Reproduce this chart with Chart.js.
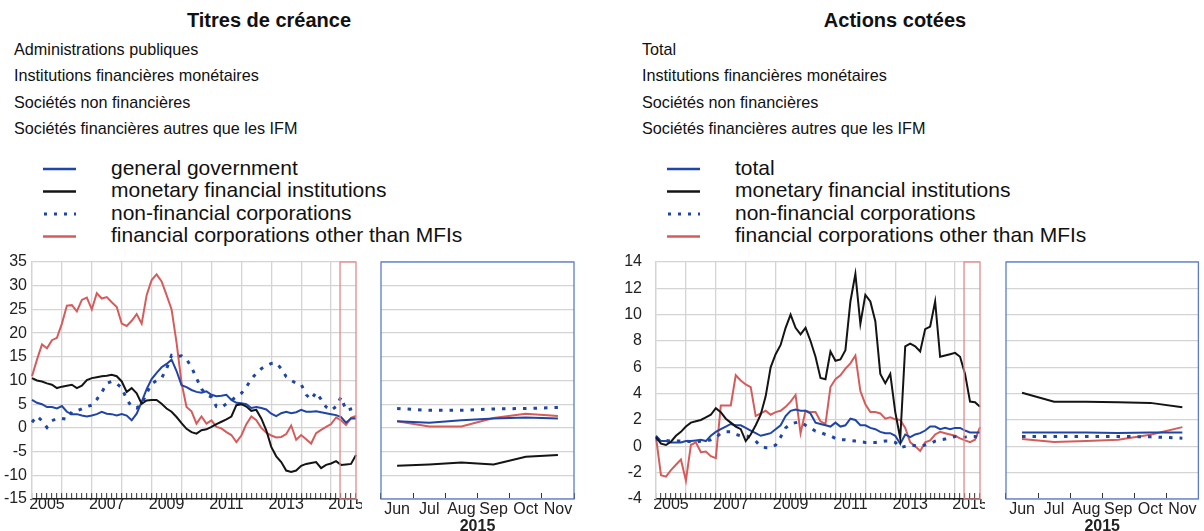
<!DOCTYPE html>
<html>
<head>
<meta charset="utf-8">
<script src="https://cdn.jsdelivr.net/npm/chart.js@4.4.1/dist/chart.umd.min.js"></script>
<style>
body { margin: 0; background: #fff; font-family: "Liberation Sans", Arial, sans-serif; color: #111; }
#page { position: relative; width: 1204px; height: 531px; overflow: hidden; }
.t { position: absolute; white-space: nowrap; line-height: 1; }
.ttl { font-weight: bold; font-size: 20px; text-align: center; }
.fr { font-size: 16.2px; }
.lg { font-size: 21px; }
canvas, svg { position: absolute; }
</style>
</head>
<body>
<div id="page">
  <div class="t ttl" style="left:0;top:10px;width:538px">Titres de créance</div>
  <div class="t fr" style="left:14px;top:41px">Administrations publiques</div>
  <div class="t fr" style="left:14px;top:67px">Institutions financières monétaires</div>
  <div class="t fr" style="left:14px;top:94px">Sociétés non financières</div>
  <div class="t fr" style="left:14px;top:120px">Sociétés financières autres que les IFM</div>

  <svg style="left:40px;top:160px" width="40" height="85">
    <line x1="3" y1="9" x2="36" y2="9" stroke="#1f45a6" stroke-width="2.5"/>
    <line x1="3" y1="31.5" x2="36" y2="31.5" stroke="#141414" stroke-width="2.5"/>
    <line x1="4" y1="54" x2="36" y2="54" stroke="#1f45a6" stroke-width="3" stroke-dasharray="3 7"/>
    <line x1="3" y1="76.5" x2="36" y2="76.5" stroke="#d65c5c" stroke-width="2.5"/>
  </svg>
  <div class="t lg" style="left:111px;top:156.5px">general government</div>
  <div class="t lg" style="left:111px;top:179px">monetary financial institutions</div>
  <div class="t lg" style="left:111px;top:201.5px">non-financial corporations</div>
  <div class="t lg" style="left:111px;top:224px">financial corporations other than MFIs</div>

  <div class="t ttl" style="left:595px;top:10px;width:600px">Actions cotées</div>
  <div class="t fr" style="left:642px;top:41px">Total</div>
  <div class="t fr" style="left:642px;top:67px">Institutions financières monétaires</div>
  <div class="t fr" style="left:642px;top:94px">Sociétés non financières</div>
  <div class="t fr" style="left:642px;top:120px">Sociétés financières autres que les IFM</div>

  <svg style="left:664px;top:160px" width="40" height="85">
    <line x1="3" y1="9" x2="36" y2="9" stroke="#1f45a6" stroke-width="2.5"/>
    <line x1="3" y1="31.5" x2="36" y2="31.5" stroke="#141414" stroke-width="2.5"/>
    <line x1="4" y1="54" x2="36" y2="54" stroke="#1f45a6" stroke-width="3" stroke-dasharray="3 7"/>
    <line x1="3" y1="76.5" x2="36" y2="76.5" stroke="#d65c5c" stroke-width="2.5"/>
  </svg>
  <div class="t lg" style="left:735px;top:156.5px">total</div>
  <div class="t lg" style="left:735px;top:179px">monetary financial institutions</div>
  <div class="t lg" style="left:735px;top:201.5px">non-financial corporations</div>
  <div class="t lg" style="left:735px;top:224px">financial corporations other than MFIs</div>

  <canvas id="dsMain" width="362" height="283" style="left:0;top:252px"></canvas>
  <canvas id="dsZoom" width="230" height="283" style="left:370px;top:252px"></canvas>
  <canvas id="leMain" width="370" height="283" style="left:615px;top:252px"></canvas>
  <canvas id="leZoom" width="209" height="283" style="left:995px;top:252px"></canvas>
</div>

<script>
// dates bimestrielles
var dates = [
  '2005-01','2005-03','2005-05','2005-07','2005-09','2005-11',
  '2006-01','2006-03','2006-05','2006-07','2006-09','2006-11',
  '2007-01','2007-03','2007-05','2007-07','2007-09','2007-11',
  '2008-01','2008-03','2008-05','2008-07','2008-09','2008-11',
  '2009-01','2009-03','2009-05','2009-07','2009-09','2009-11',
  '2010-01','2010-03','2010-05','2010-07','2010-09','2010-11',
  '2011-01','2011-03','2011-05','2011-07','2011-09','2011-11',
  '2012-01','2012-03','2012-05','2012-07','2012-09','2012-11',
  '2013-01','2013-03','2013-05','2013-07','2013-09','2013-11',
  '2014-01','2014-03','2014-05','2014-07','2014-09','2014-11',
  '2015-01','2015-03','2015-05','2015-07','2015-09','2015-11'
];
var zoomMonths = ['Jun', 'Jul', 'Aug', 'Sep', 'Oct', 'Nov'];

// Titres de créance
var dsGov = [5.9, 5.3, 5.0, 4.4, 4.4, 4.1,  4.6, 3.4, 2.9, 2.9, 2.6, 2.4,  2.6, 2.9, 3.4, 3.0, 2.9, 2.6,
  2.9, 2.6, 1.6, 3.0, 5.5, 8.2,  10.3, 11.6, 12.8, 13.5, 14.4, 12.0,  9.0, 8.6, 8.0, 7.6, 7.4, 7.7,
  7.0, 6.7, 6.8, 7.0, 5.9, 5.3,  5.2, 5.0, 4.2, 4.4, 4.2, 3.9,  3.0, 2.5, 3.1, 3.4, 3.1, 3.3,
  3.8, 3.4, 3.4, 3.5, 3.3, 3.1,  2.9, 2.7, 2.3, 1.1, 2.0, 2.0];
var dsMfi = [10.5, 10.0, 9.8, 9.4, 9.1, 8.4,  8.7, 8.9, 9.1, 8.4, 8.9, 10.1,  10.5, 10.7, 10.9, 11.0, 11.2, 10.9,
  9.8, 7.6, 8.4, 7.3, 5.1, 5.8,  5.9, 5.9, 5.1, 4.1, 3.4, 2.3,  1.0, -0.2, -0.9, -1.2, -0.5, -0.3,
  0.2, 0.8, 1.3, 1.8, 2.4, 4.8,  5.0, 4.5, 3.6, 3.8, 2.0, -0.5,  -4.0, -6.0, -7.2, -9.0, -9.3, -9.0,
  -8.0, -7.6, -7.4, -7.2, -8.5, -7.8,  -7.5, -7.0, -7.8, -7.7, -7.6, -5.7];
var dsNfc = [1.2, 2.5, 1.5, 0.1, 1.5, 2.0,  2.0, 1.8, 3.4, 3.6, 4.0, 4.5,  4.8, 6.0, 7.5, 9.4, 9.8, 9.3,
  8.5, 6.0, 4.5, 4.2, 5.0, 7.3,  9.3, 10.0, 10.5, 12.5, 15.3, 15.0,  15.2, 14.5, 12.8, 10.5, 8.2, 7.0,
  6.5, 4.5, 4.3, 5.1, 5.8, 6.6,  7.3, 8.6, 10.3, 11.5, 12.5, 13.1,  13.6, 13.7, 12.5, 10.8, 10.0, 9.4,
  9.2, 7.0, 6.0, 7.5, 6.0, 4.4,  3.7, 4.5, 6.5, 3.7, 4.0, 4.3];
var dsFin = [10.9, 14.4, 17.6, 16.8, 18.5, 19.0,  22.0, 25.8, 25.9, 24.6, 27.0, 27.5,  25.0, 28.4, 27.3, 27.6, 26.5, 25.5,
  22.0, 21.5, 22.6, 24.0, 22.0, 28.0,  31.2, 32.4, 30.9, 28.0, 25.0, 18.0,  9.5, 4.4, 3.5, 0.9, 2.4, 0.9,
  1.6, 0.2, -0.1, -0.9, -1.5, -3.0,  -1.6, 0.8, 2.4, 1.6, 0.0, -1.0,  -1.6, -2.0, -1.9, -1.3, 0.5, -2.5,
  -1.5, -2.4, -3.3, -1.1, -0.4, 0.2,  0.8, 2.2, 1.6, 0.6, 2.1, 2.5];
var dsZoomGov = [1.4, 1.1, 1.6, 2.0, 2.2, 2.0];
var dsZoomMfi = [-8.0, -7.7, -7.3, -7.7, -6.1, -5.7];
var dsZoomNfc = [4.1, 3.7, 3.7, 4.0, 4.1, 4.3];
var dsZoomFin = [1.4, 0.3, 0.3, 2.1, 3.0, 2.5];

// Actions cotées
var leTot = [0.8, 0.4, 0.4, 0.3, 0.3, 0.3,  0.4, 0.4, 0.45, 0.5, 0.4, 0.8,  1.1, 1.3, 1.5, 1.7, 1.6, 1.6,
  1.4, 1.2, 1.0, 0.8, 0.9, 1.0,  1.3, 1.6, 2.3, 2.7, 2.8, 2.7,  2.7, 2.5, 1.8, 1.7, 1.6, 1.5,
  1.8, 1.5, 1.6, 2.1, 2.0, 1.6,  1.6, 1.4, 1.3, 1.1, 1.0, 1.0,  0.8, 0.2, 0.9, 0.7, 0.9, 1.0,
  1.2, 1.5, 1.5, 1.3, 1.4, 1.3,  1.4, 1.4, 1.2, 1.06, 1.06, 1.06];
var leMfi = [0.7, 0.2, 0.1, 0.35, 0.8, 1.1,  1.5, 1.8, 1.9, 2.0, 2.2, 2.4,  2.9, 2.6, 2.1, 1.8, 1.5, 1.3,
  0.4, 0.9, 1.6, 2.4, 3.8, 6.0,  7.0, 7.7, 9.0, 10.0, 9.0, 8.5,  9.0, 8.0, 6.8, 5.2, 5.1, 7.2,
  6.5, 6.6, 7.3, 11.0, 13.1, 9.3,  11.5, 11.0, 9.5, 5.5, 4.8, 5.5,  2.6, 0.6, 7.6, 7.8, 7.6, 7.2,
  8.9, 9.1, 11.0, 6.8, 6.9, 7.0,  7.1, 6.8, 5.5, 3.4, 3.35, 3.0];
var leNfc = [0.55, 0.5, 0.45, 0.4, 0.4, 0.4,  0.4, 0.35, 0.3, 0.4, 0.4, 0.5,  0.65, 1.0, 1.1, 1.1, 0.9, 0.8,
  0.8, 0.7, 0.4, 0.0, -0.1, -0.1,  0.1, 0.7, 1.4, 1.7, 1.8, 1.85,  1.6, 1.4, 1.15, 1.05, 0.9, 0.8,
  0.6, 0.5, 0.5, 0.45, 0.4, 0.35,  0.3, 0.3, 0.3, 0.35, 0.4, 0.4,  0.3, -0.1, 0.0, 0.1, 0.05, 0.0,
  0.1, 0.2, 0.4, 0.5, 0.55, 0.65,  0.75, 0.7, 0.7, 0.75, 0.75, 0.62];
var leFin = [0.7, -2.2, -2.3, -1.8, -1.4, -1.0,  -2.6, 0.1, 0.3, -0.45, -0.4, -0.75,  -0.9, 3.1, 3.1, 3.1, 5.4, 5.0,
  4.7, 4.5, 2.3, 2.5, 2.7, 2.4,  2.6, 2.7, 3.0, 3.4, 3.9, 1.0,  2.7, 2.6, 2.6, 1.9, 1.7, 4.5,
  5.1, 5.4, 5.9, 6.3, 6.9, 4.2,  3.2, 2.6, 2.6, 2.5, 2.1, 2.2,  2.05, 2.0, 1.4, 0.3, 0.0, -0.35,
  0.3, 0.45, 0.9, 1.1, 1.0, 0.9,  0.8, 0.6, 0.45, 0.32, 0.5, 1.46];
var leZoomTot = [1.06, 1.06, 1.06, 1.02, 1.06, 1.06];
var leZoomMfi = [4.07, 3.38, 3.38, 3.35, 3.3, 2.97];
var leZoomNfc = [0.75, 0.75, 0.75, 0.75, 0.72, 0.62];
var leZoomFin = [0.55, 0.32, 0.4, 0.5, 0.88, 1.46];

var BLUE = '#1f45a6', BLACK = '#141414', RED = '#d65c5c', GRID = '#d4d4d4';
var TXT = '#222';

// cadre rouge (juin-nov 2015) sur le graphique principal
var redBox = {
  id: 'redBox',
  afterDatasetsDraw(chart, args, opts) {
    const a = chart.chartArea;
    const left = chart.scales.x.getPixelForValue(opts.from);
    const ctx = chart.ctx;
    ctx.save();
    ctx.strokeStyle = opts.color;
    ctx.lineWidth = 1.3;
    ctx.strokeRect(left, a.top, a.right - left, a.bottom - a.top);
    ctx.restore();
  }
};
// cadre bleu du zoom
var frame = {
  id: 'frame',
  afterDatasetsDraw(chart, args, opts) {
    const a = chart.chartArea;
    const ctx = chart.ctx;
    ctx.save();
    ctx.strokeStyle = opts.color;
    ctx.lineWidth = 1.3;
    ctx.strokeRect(a.left, a.top, a.right - a.left, a.bottom - a.top);
    ctx.restore();
  }
};

function line(data, color, dotted) {
  return {
    data: data,
    borderColor: color,
    borderWidth: dotted ? 3 : 2,
    borderDash: dotted ? [3.5, 7] : [],
    borderCapStyle: 'butt',
    pointRadius: 0,
    tension: 0,
    fill: false
  };
}

function yearLabel(i) {
  const d = dates[i];
  const y = Number(d.slice(0, 4));
  return (d.slice(5) === '07' && y % 2 === 1) ? String(y) : '';
}

// l'axe y ne doit pas ajouter de marge en haut / en bas
function fixY(width) {
  return s => { s.width = width; s.paddingTop = 0; s.paddingBottom = 0; };
}

function mainChart(id, sets, yMin, yMax, yStep, yPad, yWidth, rightPad) {
  return new Chart(document.getElementById(id), {
    type: 'line',
    data: { labels: dates, datasets: sets },
    plugins: [redBox],
    options: {
      responsive: false,
      animation: false,
      layout: { padding: { top: 10, right: rightPad, bottom: 0, left: 0 } },
      plugins: {
        legend: { display: false },
        tooltip: { enabled: false },
        redBox: { from: 61.8, color: '#e08a8a' }
      },
      scales: {
        x: {
          ticks: {
            autoSkip: false, maxRotation: 0, minRotation: 0, padding: 2,
            color: TXT, font: { size: 16 },
            callback: (v, i) => yearLabel(i)
          },
          grid: {
            color: c => (dates[c.index] && dates[c.index].slice(5) === '01') ? GRID : 'rgba(0,0,0,0)',
            lineWidth: 1.3, tickColor: '#333', tickLength: -6, tickWidth: 1
          },
          border: { color: '#222', width: 1.5 },
          afterFit: s => { s.height = 36; }
        },
        y: {
          min: yMin, max: yMax,
          ticks: { stepSize: yStep, padding: yPad, color: TXT, font: { size: 16 } },
          grid: { color: GRID, lineWidth: 1.3, drawTicks: false },
          border: { color: GRID, width: 1.3 },
          afterFit: fixY(yWidth)
        }
      }
    }
  });
}

function zoomChart(id, sets, yMin, yMax, yStep, rightPad) {
  return new Chart(document.getElementById(id), {
    type: 'line',
    data: { labels: zoomMonths, datasets: sets },
    plugins: [frame],
    options: {
      responsive: false,
      animation: false,
      layout: { padding: { top: 10, right: rightPad, bottom: 0, left: 0 } },
      plugins: {
        legend: { display: false },
        tooltip: { enabled: false },
        frame: { color: '#5a7bcf' }
      },
      scales: {
        x: {
          offset: true,
          ticks: { maxRotation: 0, padding: 7, color: TXT, font: { size: 16 } },
          grid: { offset: true, drawOnChartArea: false, tickColor: '#333', tickLength: -6, tickWidth: 1 },
          border: { display: false },
          title: { display: true, text: '2015', color: TXT, font: { size: 16, weight: 'bold' }, padding: { top: 0, bottom: -1 } },
          afterFit: s => { s.height = 36; }
        },
        y: {
          min: yMin, max: yMax,
          ticks: { stepSize: yStep, display: false },
          grid: { color: GRID, lineWidth: 1.3, drawTicks: false },
          border: { display: false },
          afterFit: fixY(11)
        }
      }
    }
  });
}

mainChart('dsMain', [
  line(dsMfi, BLACK), line(dsGov, BLUE), line(dsNfc, BLUE, true), line(dsFin, RED)
], -15, 35, 5, 5, 32, 6);
zoomChart('dsZoom', [
  line(dsZoomMfi, BLACK), line(dsZoomGov, BLUE), line(dsZoomNfc, BLUE, true), line(dsZoomFin, RED)
], -15, 35, 5, 26);
mainChart('leMain', [
  line(leMfi, BLACK), line(leTot, BLUE), line(leNfc, BLUE, true), line(leFin, RED)
], -4, 14, 2, 14, 41, 5);
zoomChart('leZoom', [
  line(leZoomMfi, BLACK), line(leZoomTot, BLUE), line(leZoomNfc, BLUE, true), line(leZoomFin, RED)
], -4, 14, 2, 5);
</script>
</body>
</html>
